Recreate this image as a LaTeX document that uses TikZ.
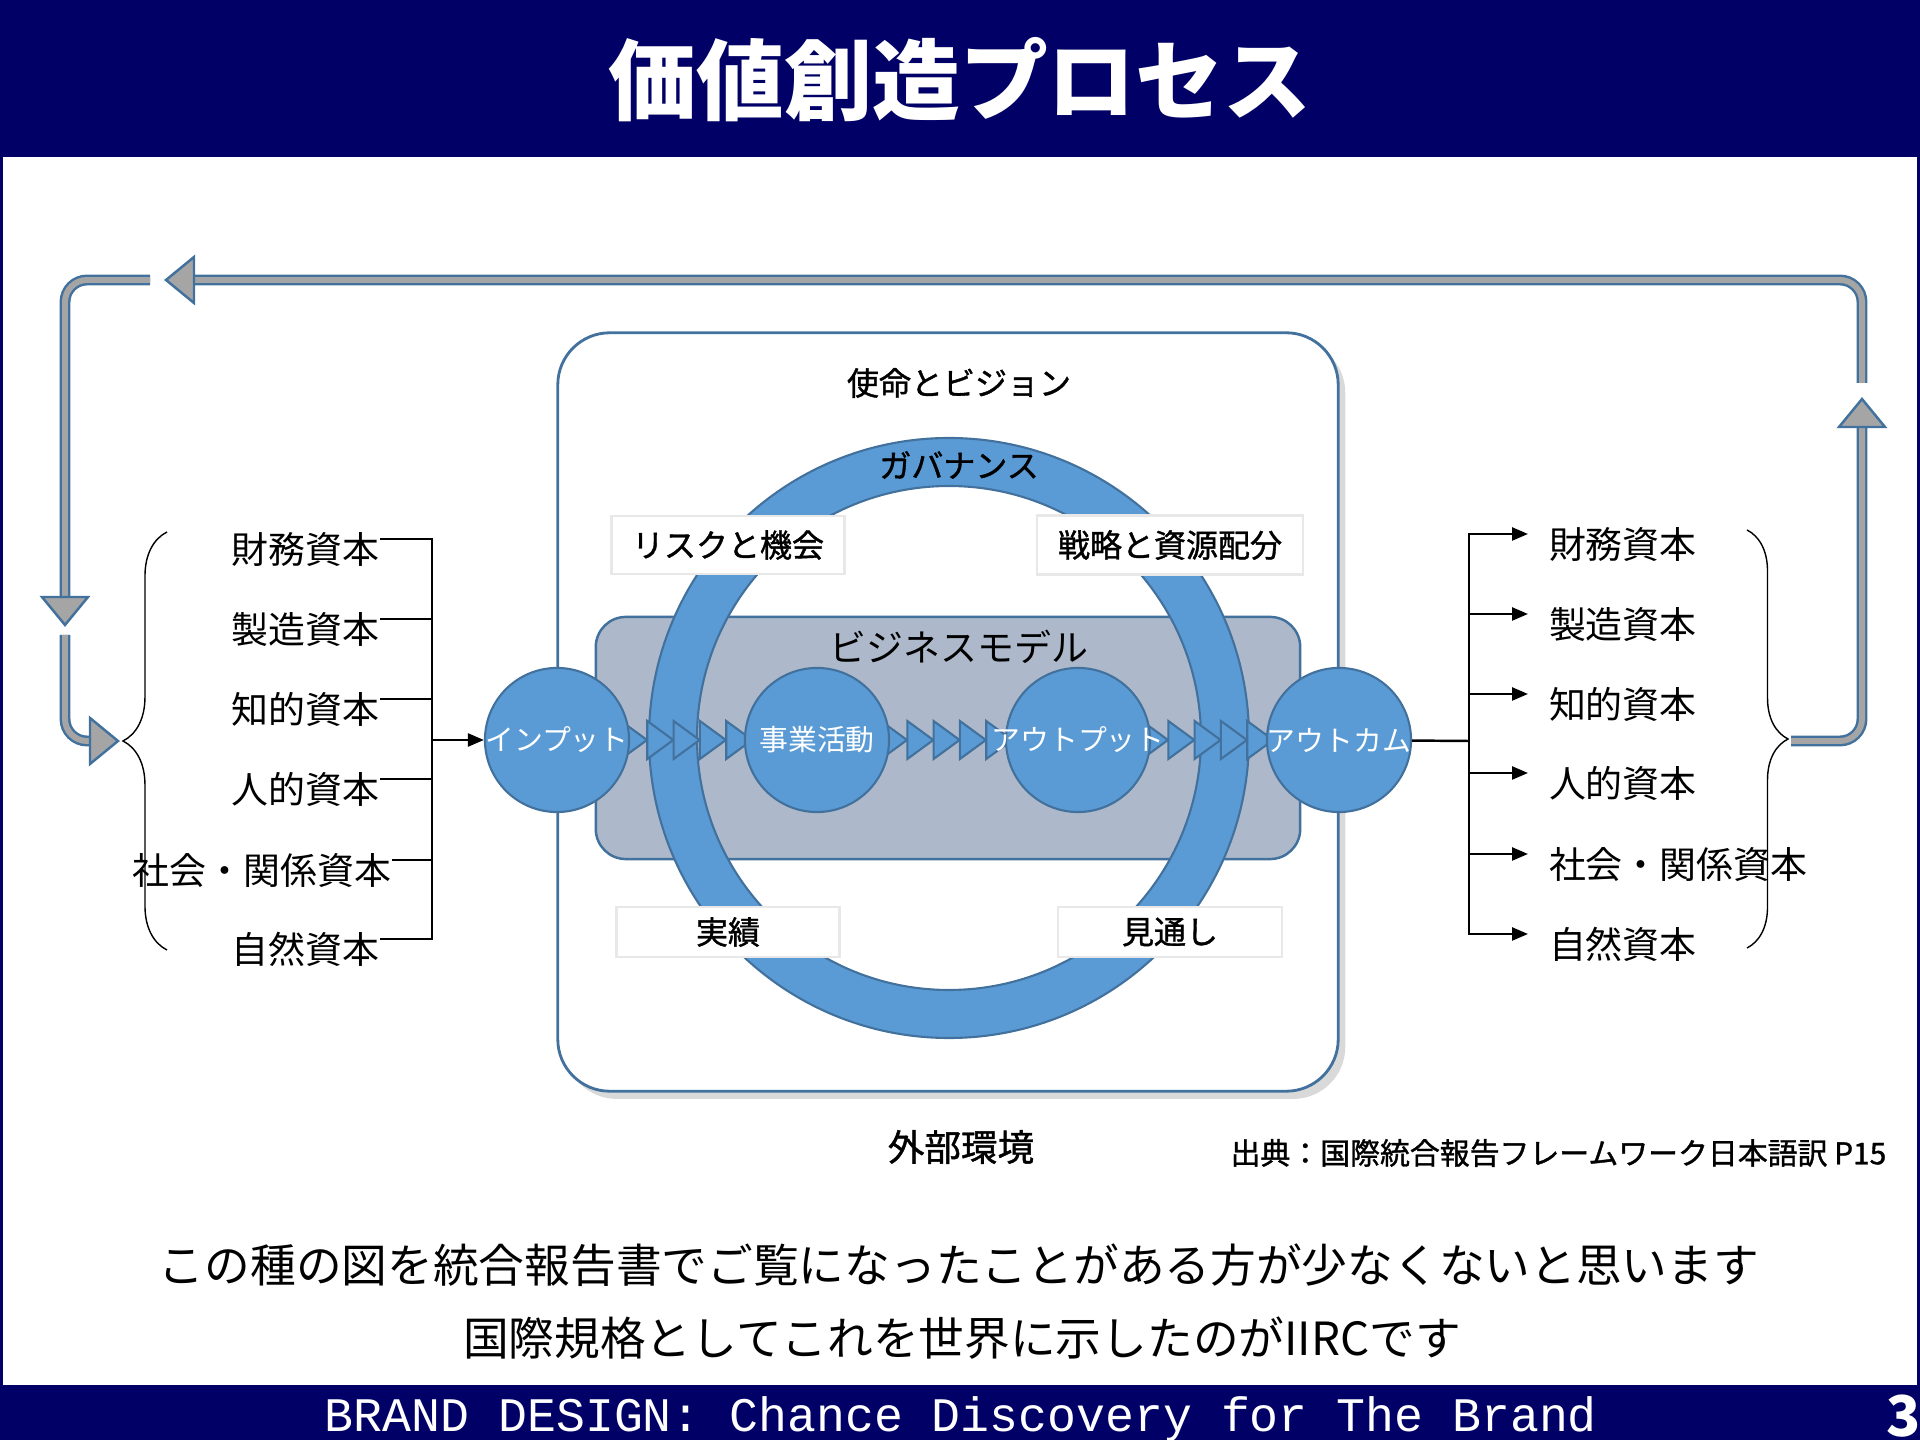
\documentclass[tikz,border=0pt]{standalone}
\usepackage{fontspec}
\setmainfont{Noto Sans CJK JP}
\newfontfamily\labelfont{Noto Sans CJK JP}[FakeBold=1.2]
\newfontfamily\monofoot{Liberation Mono}
\usetikzlibrary{arrows.meta,decorations.pathreplacing,shadows}

\definecolor{navy}{RGB}{0,0,102}
\definecolor{ringblue}{RGB}{91,155,213}
\definecolor{edgeblue}{RGB}{65,113,156}
\definecolor{modelgray}{RGB}{173,185,202}
\definecolor{loopgray}{RGB}{165,165,165}
\definecolor{tagline}{RGB}{232,232,232}

\tikzset{
  visionbox/.style={draw=edgeblue, fill=white, line width=0.8pt, rounded corners=0.52cm,
    minimum width=7.8cm, minimum height=7.58cm,
    drop shadow={shadow xshift=2pt, shadow yshift=-2.2pt, opacity=0.3}},
  modelbox/.style={draw=edgeblue, fill=modelgray, line width=0.7pt, rounded corners=0.3cm,
    minimum width=7.04cm, minimum height=2.42cm},
  ring/.style={draw=edgeblue, fill=ringblue, line width=0.6pt, even odd rule},
  bubble/.style={circle, draw=edgeblue, fill=ringblue, line width=0.6pt, minimum size=1.44cm, inner sep=0pt},
  bubbletxt/.style={text=white, font=\fontsize{8.2}{10}\selectfont, inner sep=0pt},
  chevron/.style={draw=edgeblue, fill=ringblue, line width=0.6pt, line join=miter},
  tagbox/.style={draw=tagline, fill=white, line width=0.8pt, inner sep=0pt, font=\labelfont\fontsize{9.1}{11}\selectfont},
  heading/.style={inner sep=0pt, font=\labelfont\fontsize{9.1}{11}\selectfont},
  capital/.style={inner sep=0pt, text height=0.48cm, text depth=0pt, font=\fontsize{10.5}{12}\selectfont},
  wire/.style={line width=0.7pt},
  wirearrow/.style={wire, -{Triangle[length=0.16cm,width=0.13cm]}},
  loopline/.style={draw=edgeblue, line width=0.7pt, double=loopgray, double distance=1.7pt, rounded corners=0.22cm},
  loophead/.style={draw=edgeblue, fill=loopgray, line width=0.7pt, line join=miter},
}

\newcommand{\loophead}[2]{\draw[loophead, shift={(#1)}, rotate=#2] (0,0) -- (-28,-23) -- (-28,23) -- cycle;}

\begin{document}
\begin{tikzpicture}[x=0.01cm, y=-0.01cm]
\useasboundingbox (0,0) rectangle (1920,1440);

%Title bar and footer
\fill[navy] (0,0) rectangle (1920,157);
\fill[navy] (0,1385) rectangle (1920,1440);
\fill[navy] (0,157) rectangle (3,1385);
\fill[navy] (1917,157) rectangle (1920,1385);
\node[text=white, font=\fontsize{25}{30}\selectfont\bfseries] (title) at (960,80) {価値創造プロセス};
\node[anchor=base, text=white, font=\monofoot\fontsize{13.7}{16}\selectfont] (footer) at (961,1432) {BRAND DESIGN: Chance Discovery for The Brand};
\node[anchor=base, text=white, font=\fontsize{16}{18}\selectfont\bfseries] (pageno) at (1904,1436) {3};

%Mission box
\node[visionbox] (mission) at (948,712) {};
\node[heading] (missiontxt) at (959,383) {使命とビジョン};

%Business model
\node[modelbox] (model) at (948,738) {};
\node[inner sep=0pt, font=\fontsize{10.5}{12}\selectfont] (modeltxt) at (959,647) {ビジネスモデル};

%Governance ring
\draw[ring] (949,738) circle[radius=300] (949,738) circle[radius=252];
\node[heading] (govern) at (959,465) {ガバナンス};

%Chevrons between the circles
\foreach \c in {557,817,1078}
  \foreach \k in {0,...,4}
    \draw[chevron] ({\c+64+\k*26.3},721) -- ++(26,19) -- ++(-26,19) -- cycle;

%Circles
\node[bubble, label={[bubbletxt]center:インプット}] (input) at (557,740) {};
\node[bubble, label={[bubbletxt]center:事業活動}] (activity) at (817,740) {};
\node[bubble, label={[bubbletxt]center:アウトプット}] (output) at (1078,740) {};
\node[bubble, label={[bubbletxt]center:アウトカム}] (outcome) at (1339,740) {};

%Boxes on the ring
\node[tagbox, minimum width=2.33cm, minimum height=0.58cm] (risk) at (728,545) {リスクと機会};
\node[tagbox, minimum width=2.66cm, minimum height=0.59cm] (strategy) at (1170,545) {戦略と資源配分};
\node[tagbox, minimum width=2.23cm, minimum height=0.5cm] (perform) at (728,932) {実績};
\node[tagbox, minimum width=2.24cm, minimum height=0.5cm] (outlook) at (1170,932) {見通し};

%Left capitals
\node[capital, anchor=east] (lfin) at (380,539) {財務資本};
\node[capital, anchor=east] (lmfg) at (380,619) {製造資本};
\node[capital, anchor=east] (lint) at (380,699) {知的資本};
\node[capital, anchor=east] (lhum) at (380,779) {人的資本};
\node[capital, anchor=east] (lsoc) at (392,860) {社会・関係資本};
\node[capital, anchor=east] (lnat) at (380,939) {自然資本};
\coordinate (lbus) at (432,740);
\draw[wire] (lfin) -| (lbus);
\draw[wire] (lmfg) -| (lbus);
\draw[wire] (lint) -| (lbus);
\draw[wire] (lhum) -| (lbus);
\draw[wire] (lsoc) -| (lbus);
\draw[wire] (lnat) -| (lbus);
\draw[wirearrow] (lbus) -- (input);
\draw[decorate, decoration={brace, amplitude=0.44cm}, line width=0.4pt] (167,950) -- (167,532);

%Right capitals
\node[capital, anchor=west, outer xsep=0.21cm] (rfin) at (1528,534) {財務資本};
\node[capital, anchor=west, outer xsep=0.21cm] (rmfg) at (1528,614) {製造資本};
\node[capital, anchor=west, outer xsep=0.21cm] (rint) at (1528,694) {知的資本};
\node[capital, anchor=west, outer xsep=0.21cm] (rhum) at (1528,773) {人的資本};
\node[capital, anchor=west, outer xsep=0.21cm] (rsoc) at (1528,854) {社会・関係資本};
\node[capital, anchor=west, outer xsep=0.21cm] (rnat) at (1528,934) {自然資本};
\coordinate (rbus) at (1469,741);
\draw[wire] (outcome) -- (rbus);
\draw[wirearrow] (rbus) |- (rfin);
\draw[wirearrow] (rbus) |- (rmfg);
\draw[wirearrow] (rbus) |- (rint);
\draw[wirearrow] (rbus) |- (rhum);
\draw[wirearrow] (rbus) |- (rsoc);
\draw[wirearrow] (rbus) |- (rnat);
\draw[decorate, decoration={brace, amplitude=0.41cm}, line width=0.4pt] (1747,530) -- (1747,948);

%Feedback loop
\coordinate (ret1a) at (1791,741);
\coordinate (ret1b) at (1862,427);
\coordinate (ret1tip) at (1862,399);
\coordinate (ret2a) at (1862,383);
\coordinate (ret2b) at (194,280);
\coordinate (ret2tip) at (166,280);
\coordinate (ret3a) at (150,280);
\coordinate (ret3b) at (65,597);
\coordinate (ret3tip) at (65,625);
\coordinate (ret4a) at (65,635);
\coordinate (ret4b) at (90,741);
\coordinate (ret4tip) at (118,741);
\draw[loopline] (ret1a) -| (ret1b);
\draw[loopline] (ret2a) |- (ret2b);
\draw[loopline] (ret3a) -| (ret3b);
\draw[loopline] (ret4a) |- (ret4b);
\loophead{ret1tip}{90}
\loophead{ret2tip}{180}
\loophead{ret3tip}{270}
\loophead{ret4tip}{0}

%Below the box
\node[inner sep=0pt, font=\labelfont\fontsize{10.4}{12}\selectfont] (environ) at (961,1147) {外部環境};
\node[inner sep=0pt, anchor=east, font=\labelfont\fontsize{8.5}{10}\selectfont] (source) at (1887,1153) {出典：国際統合報告フレームワーク日本語訳 P15};
\node[inner sep=0pt, font=\fontsize{13}{16}\selectfont] (remark1) at (959,1265) {この種の図を統合報告書でご覧になったことがある方が少なくないと思います};
\node[inner sep=0pt, font=\fontsize{13}{16}\selectfont] (remark2) at (962,1338) {国際規格としてこれを世界に示したのがIIRCです};

\end{tikzpicture}
\end{document}
